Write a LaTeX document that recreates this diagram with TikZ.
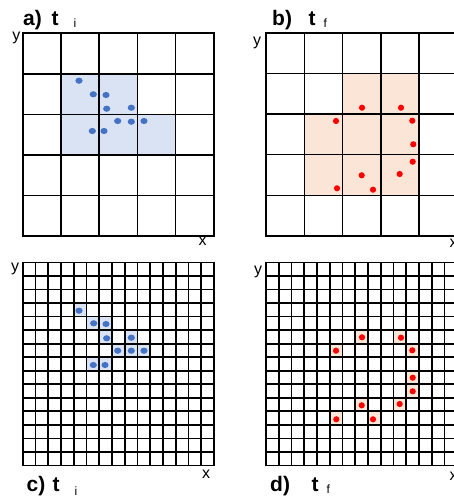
\documentclass[tikz,border=0pt]{standalone}
\usepackage{fontspec}
\setmainfont{Liberation Sans}
\definecolor{bluefill}{HTML}{DAE3F3}
\definecolor{peachfill}{HTML}{FBE5D6}
\definecolor{dotblue}{HTML}{4472C4}
\begin{document}
\begin{tikzpicture}[x=1pt,y=-1pt,
  gridline/.style={line width=1.5pt,black},
  fineline/.style={line width=1.7pt,black},
  frame/.style={line width=1.9pt,black},
  bdot/.style={fill=dotblue},
  rdot/.style={fill=red},
  title/.style={font=\fontsize{21}{21}\selectfont\bfseries, inner sep=0pt, anchor=base west},
  subl/.style={font=\fontsize{12}{12}\selectfont, inner sep=0pt, anchor=base west},
  axl/.style={font=\fontsize{16}{16}\selectfont, inner sep=0pt, anchor=center}]

\useasboundingbox (0,0) rectangle (454,498);
\clip (0,0) rectangle (454,498);
\fill[white] (0,0) rectangle (454,498);

% ---------- panel a ----------
\begin{scope}[shift={(22.7pt,-33.3pt)}, x=38.26pt, y=-40.54pt]
  \fill[bluefill] (1,1) rectangle (3,2);
  \fill[bluefill] (1,2) rectangle (4,3);
  \foreach \i in {0,...,5} {
    \draw[gridline] (\i,0) -- (\i,5);
    \draw[gridline] (0,\i) -- (5,\i);
  }
  \draw[frame] (0,0) rectangle (5,5);
\end{scope}
\foreach \px/\py in {79/80.7, 93.3/94.3, 106/95, 106.7/108.7, 131.3/107.7,
                     117.7/121, 131.3/121.7, 144/121, 92.3/131, 104/131}
  \fill[bdot] (\px,\py) ellipse [x radius=3.6, y radius=3.1];

% ---------- panel b ----------
\begin{scope}[shift={(266pt,-32.8pt)}, x=38.26pt, y=-40.64pt]
  \fill[peachfill] (2,1) rectangle (4,2);
  \fill[peachfill] (1,2) rectangle (4,4);
  \foreach \i in {0,...,5} {
    \draw[gridline] (\i,0) -- (\i,5);
    \draw[gridline] (0,\i) -- (5,\i);
  }
  \draw[frame] (0,0) rectangle (5,5);
\end{scope}
\foreach \px/\py in {362/107.7, 401/107.7, 336/121, 412.3/120.7, 413.3/144.3,
                     412.7/161.7, 361.7/175.3, 399.7/174, 337/188.3, 373/189.7}
  \fill[rdot] (\px,\py) circle [radius=3.1];

% ---------- panel c ----------
\begin{scope}[shift={(22.7pt,-262.5pt)}, x=12.753pt, y=-13.53pt]
  \foreach \c/\r in {4/3, 5/4, 6/4, 6/5, 8/5, 7/6, 8/6, 9/6, 5/7, 6/7}
    \fill[bluefill] (\c,\r) rectangle ++(1,1);
  \foreach \i in {0,...,15} {
    \draw[fineline] (\i,0) -- (\i,15);
    \draw[fineline] (0,\i) -- (15,\i);
  }
  \draw[frame] (0,0) rectangle (15,15);
\end{scope}
\foreach \px/\py in {79/310.7, 93.7/323.3, 106/324, 106.7/338.3, 131.3/337.7,
                     117.7/350.7, 131.3/350.7, 144/350.7, 93.3/365, 105/365}
  \fill[bdot] (\px,\py) ellipse [x radius=3.6, y radius=3.1];

% ---------- panel d ----------
\begin{scope}[shift={(266pt,-262.5pt)}, x=12.753pt, y=-13.53pt]
  \foreach \c/\r in {7/5, 10/5, 5/6, 11/6, 11/8, 11/9, 7/10, 10/10, 5/11, 8/11}
    \fill[peachfill] (\c,\r) rectangle ++(1,1);
  \foreach \i in {0,...,15} {
    \draw[fineline] (\i,0) -- (\i,15);
    \draw[fineline] (0,\i) -- (15,\i);
  }
  \draw[frame] (0,0) rectangle (15,15);
\end{scope}
\foreach \px/\py in {362/337.3, 401/337.7, 336/350.7, 412.3/350.3, 412.7/377.7,
                     412.7/391.3, 361.7/405.3, 399.7/404, 336.3/419.3, 373/419.3}
  \fill[rdot] (\px,\py) circle [radius=3.1];

% ---------- titles ----------
\node[title] (ta) at (23,25) {a)};
\node[title] (tat) at (51.5,25) {t};
\node[subl] (tai) at (73.5,27.3) {i};

\node[title] (tb) at (272,25) {b)};
\node[title] (tbt) at (308.5,25) {t};
\node[subl] (tbf) at (323.5,27.3) {f};

\node[title] (tc) at (26.5,491.5) {c)};
\node[title] (tct) at (52.5,491) {t};
\node[subl] (tci) at (74.5,495) {i};

\node[title] (td) at (270,491.5) {d)};
\node[title] (tdt) at (311.5,491) {t};
\node[subl] (tdf) at (326.5,493.3) {f};

% ---------- axis labels ----------
\node[axl] (ya) at (16.5,37.5) {y};
\node[axl] (xa) at (202.5,241.5) {x};
\node[axl] (yb) at (257,42.5) {y};
\node[axl] (xb) at (453.7,243) {x};
\node[axl] (yc) at (15,269) {y};
\node[axl] (xc) at (206,474) {x};
\node[axl] (yd) at (258,271.5) {y};
\node[axl] (xd) at (453.7,476) {x};
\end{tikzpicture}
\end{document}
